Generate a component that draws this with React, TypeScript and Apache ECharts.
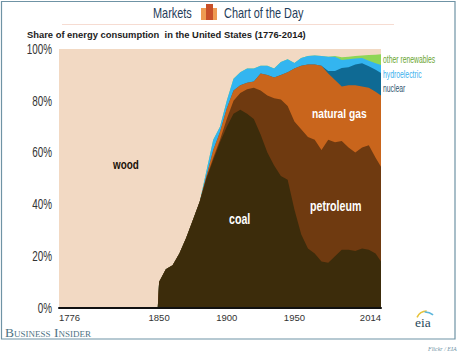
import React, { useEffect, useRef } from "react";
import * as echarts from "echarts";

const years = [1776,1849,1850,1855,1860,1865,1870,1875,1880,1885,1890,1895,1900,1905,1910,1915,1920,1925,1930,1935,1940,1945,1950,1955,1960,1965,1970,1975,1980,1985,1990,1995,2000,2005,2010,2014];
const coal = [0,0,10,15,16.5,21,27,34,41,50,57,64,70,75,76.5,75,73,67,60,55,51,49.5,38,28.5,23,21,18,17.5,20,22.5,22.5,22,23,22.5,21,18];
const petroleum = [0,0,0,0,0,0,0,0,0,0.5,1,1,3,5,6.5,9.5,12,17,22,26,29.5,28.5,34,40.5,43,44,43,47.5,44,42,39.5,38,39,40.3,37,36.5];
const naturalGas = [0,0,0,0,0,0,0,0,0,0.5,3,3,4,4,3,2.5,2.5,6.5,8,8,9.5,13,20.5,24.5,28,29,32.5,25.5,24,21,24,26,23.5,22.2,25.5,27.5];
const nuclear = [0,0,0,0,0,0,0,0,0,0,0,0,0,0,0,0,0,0,0,0,0,0,0,0,0,0,0,1,3.5,7.2,7,8,9,8.3,8.5,8.7];
const hydroelectric = [0,0,0,0,0,0,0,0,0,2,4,2,3,4.5,5,5.5,5,3,3.5,3.5,5,5,2.1,3,3.3,3.5,3.8,5.5,5.5,3.1,3,2.3,2,2.2,2.5,3.1];
const otherRenewables = [0,0,0,0,0,0,0,0,0,0,0,0,0,0,0,0,0,0,0,0,0,0,0,0,0,0,0,0,0.3,1,1,1,1,2.2,3.3,4.2];
const wood = [100,100,90,85,83.5,79,73,66,59,47,35,30,20,11.5,9,7.5,7.5,6.5,6.5,7.5,5,4,5.4,3.5,2.7,2.5,2.7,3,2.7,3.2,3,2.7,2.5,2.3,2.2,2];
const xTicks = [1776, 1850, 1900, 1950, 2014];
const yTicks = [0, 20, 40, 60, 80, 100];

const SANS = "'Liberation Sans', sans-serif";
const SERIF = "'Liberation Serif', serif";

const stacks: [string, number[], string][] = [
  ["coal", coal, "#3c2c0b"],
  ["petroleum", petroleum, "#6f3a10"],
  ["natural gas", naturalGas, "#c9651c"],
  ["nuclear", nuclear, "#0f6a94"],
  ["hydroelectric", hydroelectric, "#33b5f0"],
  ["other renewables", otherRenewables, "#8fd655"],
  ["wood", wood, "#f2d9c3"],
];

function label(text: string, x: number, y: number, fill: string, fontSize: number, scaleX = 1, fontWeight: any = "normal", fontFamily = SANS, extra: any = {}) {
  return { type: "text", x, y, scaleX, silent: true, z: 20, style: { text, fill, fontSize, fontWeight, fontFamily, textVerticalAlign: "middle", ...extra } };
}

export default function App() {
  const ref = useRef<HTMLDivElement>(null);
  useEffect(() => {
    document.body.style.margin = "0";
    const chart = echarts.init(ref.current!, undefined, { renderer: "svg" });
    const running = years.map(() => 0);
    const layers = stacks.map(([name, values, color], k) => {
      const data = years.map((y, i) => {
        running[i] += values[i];
        return [y, running[i]];
      });
      return {
        name, type: "line", showSymbol: false, symbol: "none", z: 10 - k,
        data,
        lineStyle: { width: 0 },
        areaStyle: { color, opacity: 1 },
        itemStyle: { color },
      };
    });
    chart.setOption({
      animation: false,
      backgroundColor: "#ffffff",
      grid: { left: 59, right: 79, top: 49, bottom: 46 },
      xAxis: {
        type: "value", min: 1776, max: 2014, z: 20,
        splitLine: { show: false },
        axisLine: { show: true, onZero: false, lineStyle: { color: "#111", width: 2 } },
        axisTick: { show: false },
        axisLabel: { customValues: xTicks, formatter: (v: number) => String(v), color: "#333", fontSize: 9.5, fontFamily: SANS, margin: 4, hideOverlap: false, alignMinLabel: "left", alignMaxLabel: "right" },
      },
      yAxis: {
        type: "value", min: 0, max: 100, interval: 20,
        splitLine: { show: false }, axisLine: { show: false }, axisTick: { show: false },
        axisLabel: { show: false },
      },
      series: layers.slice().reverse(),
    });
    const yLabels = yTicks.map((t) =>
      label(t + "%", 52, chart.convertToPixel({ yAxisIndex: 0 }, t) as number, "#333", 15, 0.66, "normal", SANS, { align: "right" })
    );
    chart.setOption({
      graphic: [
        ...yLabels,
        { type: "rect", z: 30, silent: true, shape: { x: 1.5, y: 1.5, width: 453.5, height: 337.5 }, style: { fill: "none", stroke: "#6f93a5", lineWidth: 1.2 } },
        label("Markets", 153, 14, "#1f3d5a", 14, 0.78),
        label("Chart of the Day", 224, 14, "#1f3d5a", 14, 0.78),
        { type: "rect", z: 20, silent: true, shape: { x: 201, y: 8, width: 16, height: 12 }, style: { fill: "#ee9b52" } },
        { type: "rect", z: 21, silent: true, shape: { x: 206, y: 4, width: 7, height: 16 }, style: { fill: "#c8502a" } },
        { type: "rect", z: 20, silent: true, shape: { x: 62, y: 24, width: 332, height: 1 }, style: { fill: "#f6dcd2" } },
        label("Share of energy consumption  in the United States (1776-2014)", 27, 34, "#1c1c1c", 9.4, 1, "bold"),
        label("wood", 113, 164, "#1a1208", 13, 0.76, "bold"),
        label("coal", 229, 219, "#ffffff", 14, 0.76, "bold"),
        label("petroleum", 310, 206, "#ffffff", 14, 0.76, "bold"),
        label("natural gas", 312, 113, "#ffffff", 13.5, 0.76, "bold"),
        label("other renewables", 383, 59, "#6aa531", 11, 0.62),
        label("hydroelectric", 383, 74, "#39b0ee", 11, 0.62),
        label("nuclear", 383, 88, "#2f5570", 11, 0.62),
        label("eia", 415, 322, "#2a4a5c", 13.5, 1, "normal", SERIF),
        { type: "arc", z: 20, silent: true, shape: { cx: 427, cy: 322, r: 11, startAngle: -2.7, endAngle: -1.6 }, style: { stroke: "#e7c33a", fill: "none", lineWidth: 1.6 } },
        { type: "arc", z: 20, silent: true, shape: { cx: 425, cy: 325, r: 13, startAngle: -1.6, endAngle: -0.9 }, style: { stroke: "#5cb6dc", fill: "none", lineWidth: 1.6 } },
        { type: "text", x: 5, y: 332, silent: true, z: 20, style: { text: "Business Insider", fill: "#4f7384", font: "small-caps 13.5px 'Liberation Serif', serif", textVerticalAlign: "middle" } },
        label("Flickr / EIA", 428, 349, "#6f93a5", 6, 1, "normal", SERIF, { fontStyle: "italic" }),
      ],
    });
    return () => chart.dispose();
  }, []);
  return <div ref={ref} style={{ width: 460, height: 354 }} />;
}
